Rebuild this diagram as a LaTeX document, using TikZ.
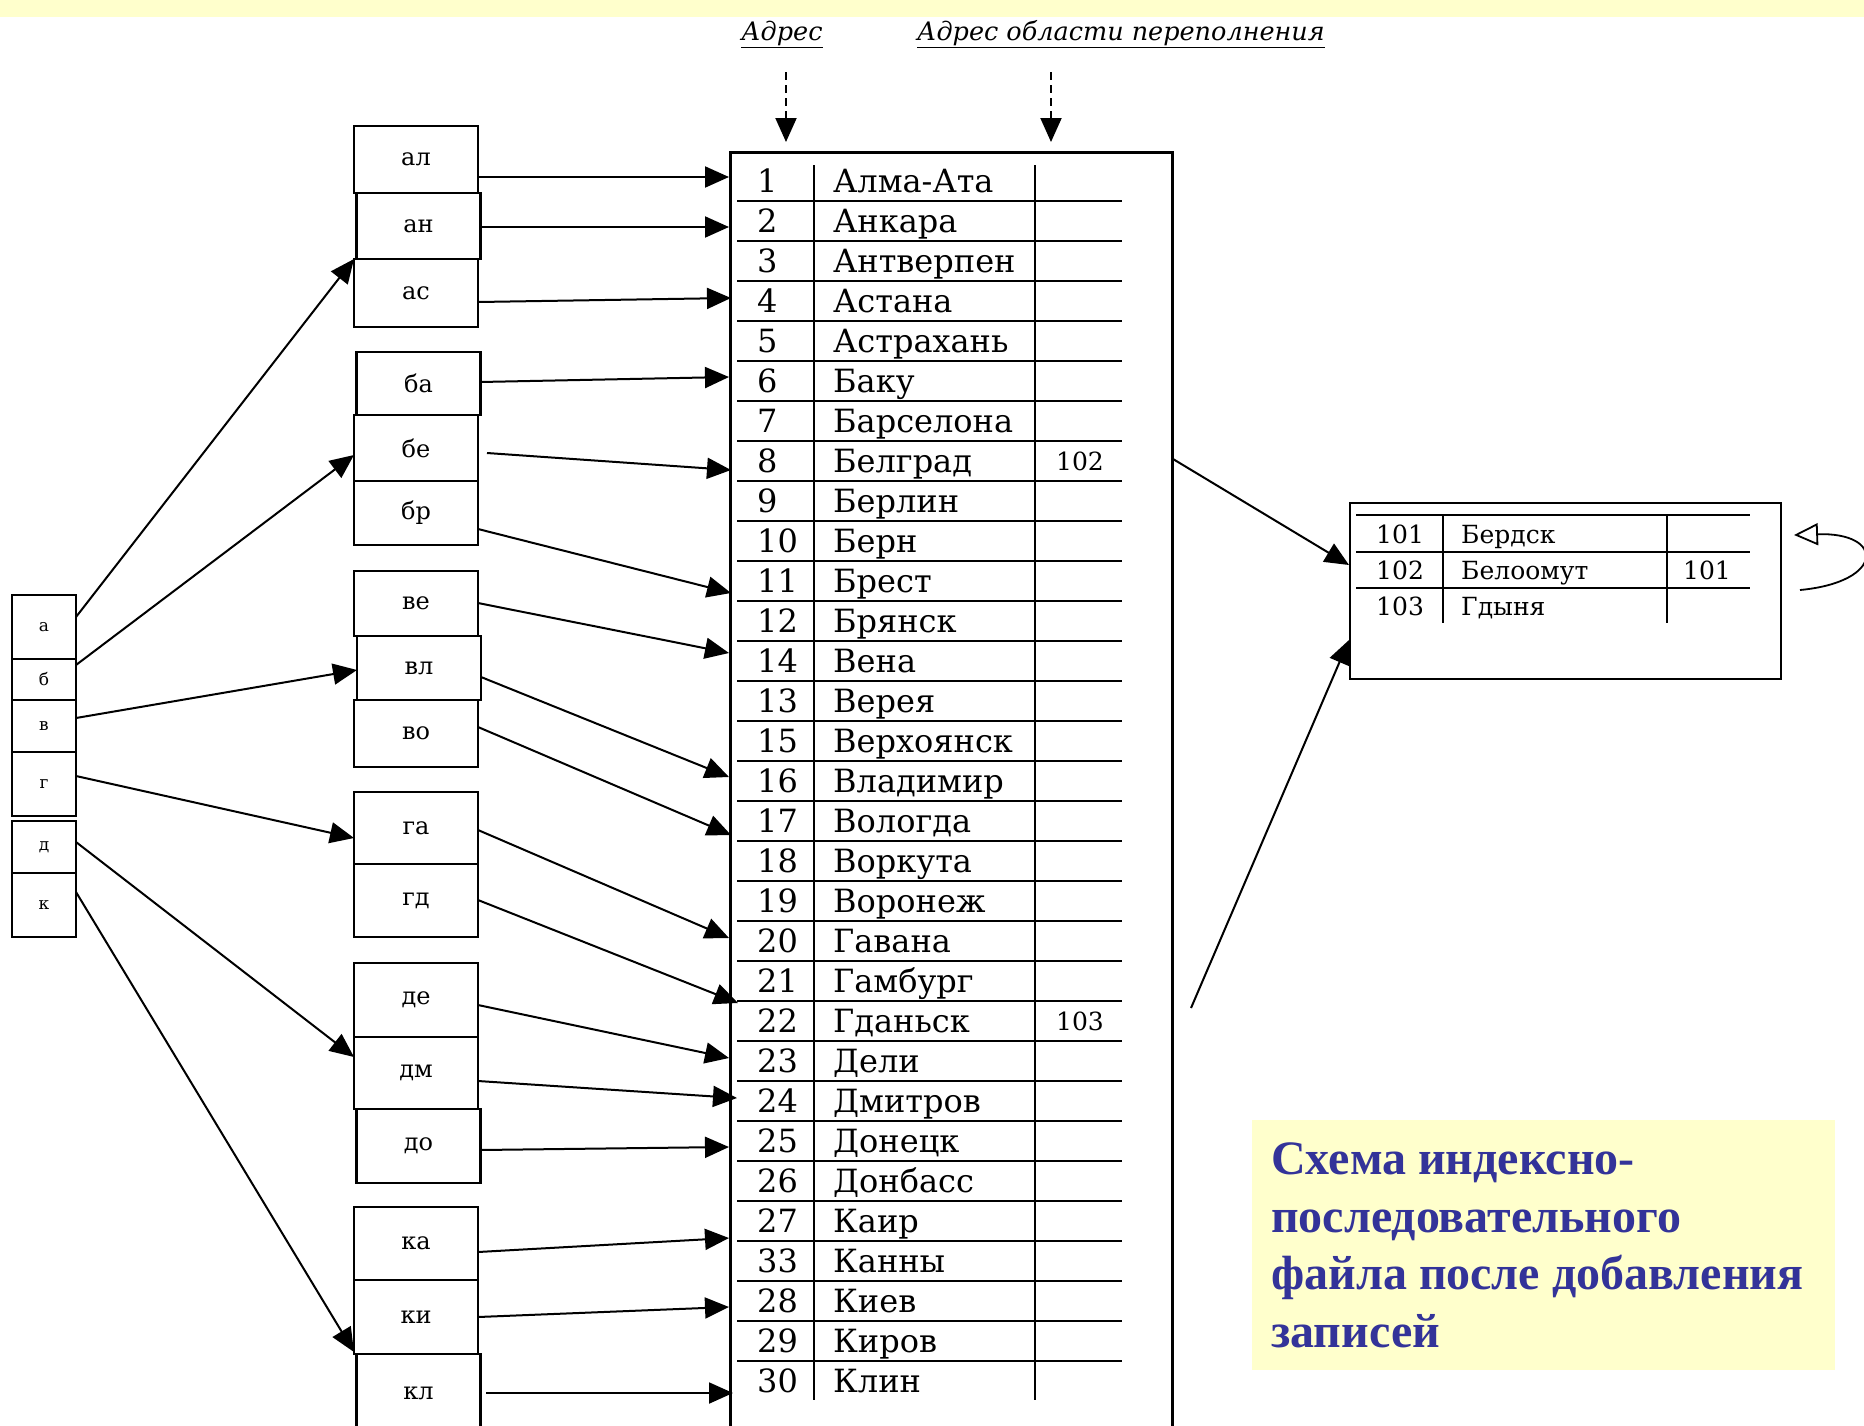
\documentclass[tikz,border=0pt]{standalone}
\usepackage{fontspec}
\setmainfont{DejaVu Serif}
\newfontfamily\capfont{Liberation Serif}
\usetikzlibrary{arrows.meta}
\definecolor{bgyellow}{HTML}{FFFFCC}
\definecolor{capblue}{HTML}{333399}
\begin{document}
\begin{tikzpicture}[x=1pt,y=-1pt,
  ibox/.style={draw, line width=2.4pt, inner sep=0pt, minimum width=124pt, font=\fontsize{24}{24}\selectfont},
  lbox/.style={draw, line width=2.4pt, inner sep=0pt, minimum width=64pt, font=\fontsize{17}{17}\selectfont},
  arr/.style={line width=2pt, -{Triangle[length=24pt,width=21pt]}},
  darr/.style={line width=2pt, dash pattern=on 8pt off 5pt, -{Triangle[length=24pt,width=21pt]}},
  rowtxt/.style={inner sep=0pt, font=\fontsize{32}{32}\selectfont},
  smalltxt/.style={inner sep=0pt, font=\fontsize{25}{25}\selectfont},
  hdrtxt/.style={inner sep=0pt, font=\itshape\fontsize{25.5}{25.5}\selectfont},
  captext/.style={inner sep=0pt, anchor=base west, text=capblue, font=\capfont\bfseries\fontsize{48}{58}\selectfont},
  hline/.style={line width=2pt},
  vline/.style={line width=2.4pt}
]
\useasboundingbox (0,0) rectangle (1864,1425);
\fill[bgyellow] (0,0) rectangle (1864,17);

% headers
\node[hdrtxt, anchor=base] (h1) at (782,40) {\underline{Адрес}};
\node[hdrtxt, anchor=base] (h2) at (1121,40) {\underline{Адрес области переполнения}};
\coordinate (d1s) at (786,72); \coordinate (d1e) at (786,142);
\coordinate (d2s) at (1051,72); \coordinate (d2e) at (1051,142);
\draw[darr] (d1s) -- (d1e);
\draw[darr] (d2s) -- (d2e);

% main table
\node[draw, line width=2.6pt, inner sep=0pt, minimum width=442pt, minimum height=1300pt, anchor=north west] (tbl) at (729,151) {};
\foreach \k in {0,...,29} {\draw[hline] (737,201+40*\k) -- (1122,201+40*\k);}
\draw[vline] (814,165) -- (814,1400);
\draw[vline] (1035,165) -- (1035,1400);
\foreach \n/\c [count=\i from 0] in {1/Алма-Ата,2/Анкара,3/Антверпен,4/Астана,5/Астрахань,6/Баку,7/Барселона,8/Белград,9/Берлин,10/Берн,11/Брест,12/Брянск,14/Вена,13/Верея,15/Верхоянск,16/Владимир,17/Вологда,18/Воркута,19/Воронеж,20/Гавана,21/Гамбург,22/Гданьск,23/Дели,24/Дмитров,25/Донецк,26/Донбасс,27/Каир,33/Канны,28/Киев,29/Киров,30/Клин} {
  \node[rowtxt, anchor=base west] (num\i) at (757,192+40*\i) {\n};
  \node[rowtxt, anchor=base west] (city\i) at (833,192+40*\i) {\c};
}
\node[smalltxt, anchor=base] (ov8) at (1080,470) {102};
\node[smalltxt, anchor=base] (ov22) at (1080,1030) {103};

% first-letter index
\node[lbox, minimum height=64pt] (la) at (44,627) {а};
\node[lbox, minimum height=41pt] (lb) at (44,679.5) {б};
\node[lbox, minimum height=52pt] (lv) at (44,726) {в};
\node[lbox, minimum height=64pt] (lg) at (44,784) {г};
\node[lbox, minimum height=52pt] (ld) at (44,847) {д};
\node[lbox, minimum height=64pt] (lk) at (44,905) {к};

% two-letter index
\node[ibox, minimum height=67pt] (ial) at (416,159.5) {ал};
\node[ibox, minimum height=66pt] (ian) at (418.5,226) {ан};
\node[ibox, minimum height=68pt] (ias) at (416,293) {ас};
\node[ibox, minimum height=63pt] (iba) at (418.5,383.5) {ба};
\node[ibox, minimum height=66pt] (ibe) at (416,448) {бе};
\node[ibox, minimum height=64pt] (ibr) at (416,513) {бр};
\node[ibox, minimum height=65pt] (ive) at (416,603.5) {ве};
\node[ibox, minimum height=64pt] (ivl) at (419,668) {вл};
\node[ibox, minimum height=67pt] (ivo) at (416,733.5) {во};
\node[ibox, minimum height=72pt] (iga) at (416,828) {га};
\node[ibox, minimum height=73pt] (igd) at (416,900.5) {гд};
\node[ibox, minimum height=74pt] (ide) at (416,1000) {де};
\node[ibox, minimum height=72pt] (idm) at (416,1073) {дм};
\node[ibox, minimum height=74pt] (ido) at (418.5,1146) {до};
\node[ibox, minimum height=73pt] (ika) at (416,1243.5) {ка};
\node[ibox, minimum height=74pt] (iki) at (416,1317) {ки};
\node[ibox, minimum height=78pt] (ikl) at (418.5,1393) {кл};

% arrows first-letter -> two-letter
\foreach \s/\sy/\t/\tx/\ty in {la/617/an/354/259, lb/665/be/354/455, lv/718/vl/357/670, lg/776/ga/354/838, ld/842/dm/354/1057, lk/892/ki/354/1352} {
  \coordinate (fs-\s) at (76,\sy);
  \coordinate (ft-\t) at (\tx,\ty);
  \draw[arr] (fs-\s) -- (ft-\t);
}

% arrows two-letter -> table
\foreach \b/\sx/\sy/\tx/\ty in {al/478/177/729/177, an/480/227/729/227, as/478/302/731/298, ba/480/382/729/377, be/487/453/731/470, br/478/529/731/593, ve/478/603/729/653, vl/481/677/729/777, vo/478/727/731/835, ga/478/830/729/938, gd/478/900/738/1003, de/478/1005/729/1058, dm/478/1081/737/1098, do/480/1150/729/1147, ka/478/1252/729/1238, ki/478/1317/729/1307, kl/486/1393/733/1393} {
  \coordinate (s-\b) at (\sx,\sy);
  \coordinate (t-\b) at (\tx,\ty);
  \draw[arr] (s-\b) -- (t-\b);
}

% overflow area
\node[draw, line width=2.4pt, inner sep=0pt, minimum width=431pt, minimum height=176pt, anchor=north west] (ovf) at (1349,502) {};
\foreach \yy in {515,552,588} {\draw[hline] (1356,\yy) -- (1750,\yy);}
\draw[vline] (1443,515) -- (1443,623);
\draw[vline] (1667,515) -- (1667,623);
\node[smalltxt, anchor=base west] (o1n) at (1376,543) {101};
\node[smalltxt, anchor=base west] (o1c) at (1461,543) {Бердск};
\node[smalltxt, anchor=base west] (o2n) at (1376,579) {102};
\node[smalltxt, anchor=base west] (o2c) at (1461,579) {Белоомут};
\node[smalltxt, anchor=base] (o2p) at (1707,579) {101};
\node[smalltxt, anchor=base west] (o3n) at (1376,615) {103};
\node[smalltxt, anchor=base west] (o3c) at (1461,615) {Гдыня};

\coordinate (ov1s) at (1173,459); \coordinate (ov1e) at (1349,565);
\coordinate (ov2s) at (1191,1008); \coordinate (ov2e) at (1349,640);
\draw[arr] (ov1s) -- (ov1e);
\draw[arr] (ov2s) -- (ov2e);
\coordinate (cs) at (1800,590); \coordinate (ce) at (1794,535);
\draw[line width=1.8pt, -{Triangle[open,length=24pt,width=22pt,line width=1.8pt]}] (cs) .. controls (1885,582) and (1885,532) .. (ce);

% caption
\node[fill=bgyellow, inner sep=0pt, minimum width=583pt, minimum height=250pt, anchor=north west] (capbox) at (1252,1120) {};
\node[captext] (c1) at (1271,1174) {Схема индексно-};
\node[captext] (c2) at (1271,1232) {последовательного};
\node[captext] (c3) at (1271,1289) {файла после добавления};
\node[captext] (c4) at (1271,1347) {записей};
\end{tikzpicture}
\end{document}
